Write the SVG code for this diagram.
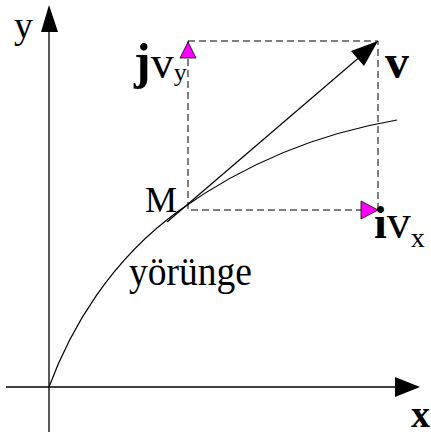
<svg xmlns="http://www.w3.org/2000/svg" width="431" height="435" viewBox="0 0 431 435">
<style>
.ax{stroke:#000;stroke-width:1.3;fill:none}
.ln{stroke:#000;stroke-width:1.2;fill:none}
.dash{stroke:#000;stroke-width:1;fill:none;stroke-dasharray:7,4}
.mag{fill:#ff00ff;stroke:#000;stroke-width:0.8}
.t{font-family:"Liberation Serif","Times New Roman",serif;fill:#000}
.b{font-weight:bold}
</style>
<rect width="431" height="435" fill="#fff"/>
<g id="axes">
<line class="ax" x1="49" y1="30" x2="49" y2="432"/>
<polygon points="49,5 41,32 58,32" fill="#000"/>
<line class="ax" x1="6" y1="387" x2="398" y2="387"/>
<polygon points="420,387 395,377 395,397" fill="#000"/>
<text class="t" x="14" y="38" font-size="38">y</text>
<text class="t b" x="411" y="427" font-size="38">x</text>
</g>
<g id="connectors">
<path class="dash" d="M188,41 H378 V210 H188 Z"/>
<path class="ln" d="M49,387 C70,330 110,260 180,210 C240,167 310,135 397,120"/>
<line class="ln" x1="167" y1="222" x2="362" y2="55"/>
<polygon points="378,41 351,51 364,66" fill="#000"/>
<polygon class="mag" points="188,42 180,58 196,58"/>
<polygon class="mag" points="378,210 361,201 361,219"/>
</g>
<g id="M"><text class="t" x="145" y="212" font-size="36">M</text></g>
<g id="traj"><text class="t" x="129" y="285" font-size="40" textLength="123" lengthAdjust="spacingAndGlyphs">yörünge</text></g>
<g id="jvy"><text class="t" x="134" y="78"><tspan class="b" font-size="50">j</tspan><tspan font-size="46">v</tspan><tspan font-size="26" dy="3">y</tspan></text></g>
<g id="v"><text class="t b" x="385" y="78" font-size="48">v</text></g>
<g id="ivx"><text class="t" x="374" y="238"><tspan class="b" font-size="46">i</tspan><tspan font-size="48">v</tspan><tspan font-size="28" dy="9">x</tspan></text></g>
</svg>
